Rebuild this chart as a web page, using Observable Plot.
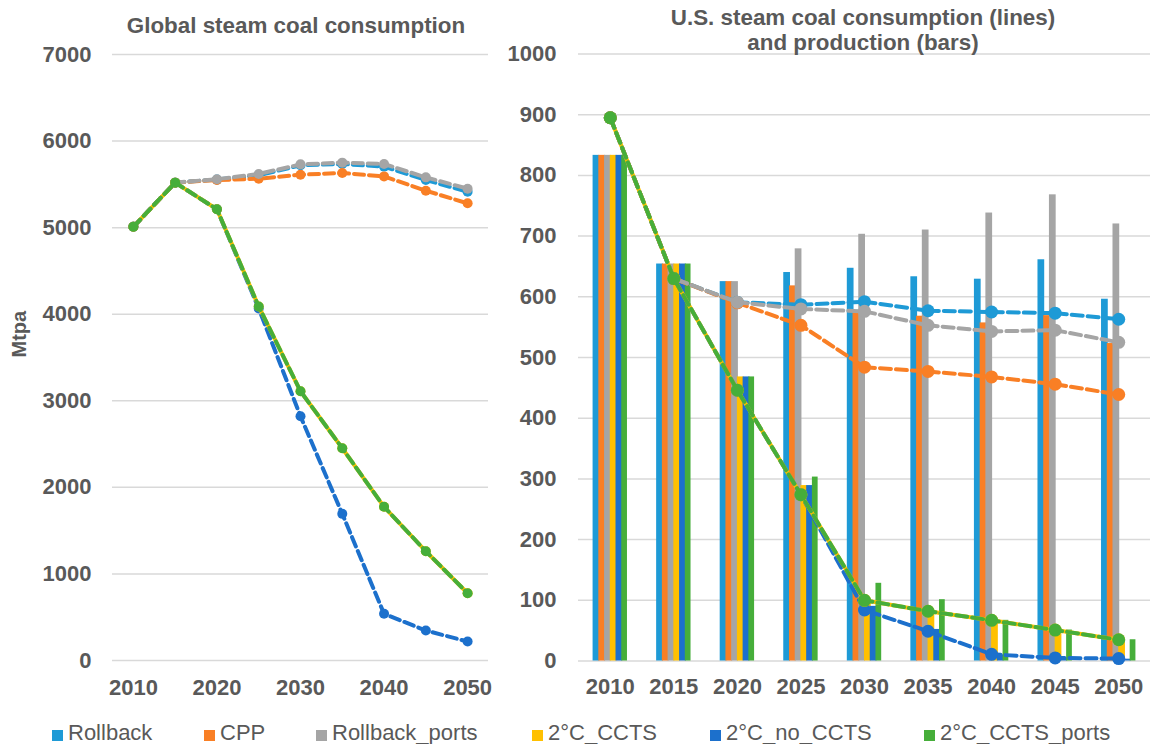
<!DOCTYPE html>
<html>
<head>
<meta charset="utf-8">
<script src="https://cdn.jsdelivr.net/npm/d3@7"></script>
<script src="https://cdn.jsdelivr.net/npm/@observablehq/plot@0.6"></script>
<style>
  html, body { margin: 0; padding: 0; background: #fff; }
  #wrap { position: relative; width: 1154px; height: 744px; overflow: hidden; font-family: "Liberation Sans", Arial, sans-serif; color: #595959; }
  .panel { position: absolute; top: 0; }
  .title { position: absolute; font-size: 22.4px; font-weight: bold; text-align: center; color: #595959; white-space: nowrap; }
  .item { position: absolute; top: 721px; display: flex; align-items: center; font-size: 22px; line-height: 24px; color: #595959; white-space: nowrap; }
  .sw { width: 11px; height: 11px; margin-right: 5px; margin-top: 5px; }
</style>
</head>
<body>
<div id="wrap">
  <div id="left" class="panel" style="left:0"></div>
  <div id="right" class="panel" style="left:500px"></div>
  <div class="title" style="left:96px; width:400px; top:13px; line-height:26px;">Global steam coal consumption</div>
  <div class="title" style="left:563px; width:600px; top:5px; line-height:25px;">U.S. steam coal consumption (lines)<br>and production (bars)</div>
</div>
<script>
// ---------- data ----------
const years = [2010, 2015, 2020, 2025, 2030, 2035, 2040, 2045, 2050];
const seriesNames = ["Rollback", "CPP", "Rollback_ports", "2°C_CCTS", "2°C_no_CCTS", "2°C_CCTS_ports"];
const seriesColors = ["#1E9AD6", "#F97F25", "#A5A5A5", "#FFC000", "#1C70CC", "#46AE3A"];

// Global steam coal consumption (Mtpa)
const globalRollback      = [5010, 5520, 5555, 5605, 5720, 5735, 5705, 5550, 5415];
const globalCPP           = [5010, 5520, 5550, 5565, 5612, 5632, 5592, 5427, 5281];
const globalRollbackPorts = [5010, 5520, 5560, 5620, 5731, 5751, 5735, 5581, 5450];
const globalCCTS          = [5010, 5520, 5212, 4090, 3110, 2452, 1775, 1262, 777];
const globalNoCCTS        = [5010, 5520, 5212, 4065, 2821, 1694, 539, 346, 219];
const globalCCTSPorts     = [5010, 5520, 5212, 4090, 3110, 2452, 1775, 1262, 777];

// U.S. steam coal consumption (lines)
const usRollback      = [895, 630, 591, 587, 592, 577, 575, 573, 563];
const usCPP           = [895, 630, 590, 553, 484, 477, 468, 456, 439];
const usRollbackPorts = [895, 630, 591, 580, 576, 553, 543, 545, 525];
const usCCTS          = [895, 630, 446, 274, 100, 82, 67, 51, 35];
const usNoCCTS        = [895, 630, 446, 274, 84, 49, 11, 5, 4];
const usCCTSPorts     = [895, 630, 446, 274, 100, 82, 67, 51, 35];

// U.S. steam coal production (bars)
const prodRollback      = [833, 654, 625, 640, 647, 633, 629, 661, 596];
const prodCPP           = [833, 654, 625, 618, 574, 568, 557, 569, 523];
const prodRollbackPorts = [833, 654, 625, 679, 703, 710, 738, 768, 720];
const prodCCTS          = [833, 654, 468, 289, 95, 78, 66, 50, 34];
const prodNoCCTS        = [833, 654, 468, 289, 90, 52, 10, 5, 3];
const prodCCTSPorts     = [833, 654, 468, 303, 128, 101, 67, 51, 35];

// tick labels
const globalTicks = [0, 1000, 2000, 3000, 4000, 5000, 6000, 7000];
const usTicks = [0, 100, 200, 300, 400, 500, 600, 700, 800, 900, 1000];
const globalYearTicks = [2010, 2020, 2030, 2040, 2050];
const usYearTicks = years;

// ---------- build tables ----------
const globalSeries = [globalRollback, globalCPP, globalRollbackPorts, globalCCTS, globalNoCCTS, globalCCTSPorts];
const usSeries = [usRollback, usCPP, usRollbackPorts, usCCTS, usNoCCTS, usCCTSPorts];
const prodSeries = [prodRollback, prodCPP, prodRollbackPorts, prodCCTS, prodNoCCTS, prodCCTSPorts];

function table(seriesList) {
  return years.map((year, i) => {
    const row = {year};
    seriesNames.forEach((n, k) => row[n] = seriesList[k][i]);
    return row;
  });
}
const globalRows = table(globalSeries);
const usRows = table(usSeries);
const prodRows = table(prodSeries);

const solidIdx = 3; // 2°C_CCTS drawn solid under the green dashed line
const lineOrder = [0, 1, 2, 4, 3, 5];

function lineMarks(rows, r, sw, dash) {
  const marks = [];
  for (const k of lineOrder) {
    const name = seriesNames[k];
    marks.push(Plot.line(rows, {
      x: "year", y: name, stroke: seriesColors[k], strokeWidth: sw,
      strokeDasharray: k === solidIdx ? null : dash
    }));
    marks.push(Plot.dot(rows, {x: "year", y: name, r, fill: seriesColors[k], stroke: "none"}));
  }
  return marks;
}

const baseStyle = {
  fontFamily: "'Liberation Sans', Arial, sans-serif",
  fontSize: "22px",
  fontWeight: "bold",
  color: "#595959",
  background: "transparent",
  overflow: "visible"
};

// ---------- left chart ----------
const left = Plot.plot({
  width: 500, height: 710,
  marginLeft: 112, marginRight: 12, marginTop: 54, marginBottom: 50,
  style: baseStyle,
  x: {type: "band", domain: years, padding: 0, round: false},
  y: {domain: [0, 7000]},
  marks: [
    Plot.gridY(globalTicks, {stroke: "#d9d9d9", strokeOpacity: 1, strokeWidth: 1.5}),
    Plot.axisY(globalTicks, {tickSize: 0, tickPadding: 21, label: null, tickFormat: d => String(d)}),
    Plot.axisX(globalYearTicks, {tickSize: 0, tickPadding: 19, label: null, tickFormat: d => String(d)}),
    Plot.text(["Mtpa"], {frameAnchor: "left", dx: -93, rotate: -90, fontSize: 20, fontWeight: "bold", fill: "#595959"}),
    ...lineMarks(globalRows, 5, 4, "10,5")
  ]
});
document.getElementById("left").appendChild(left);

// ---------- right chart ----------
const rW = 654, rML = 78, rMR = 4;
const band = (rW - rML - rMR) / years.length;
const groupW = band * 0.541;
const barW = groupW / seriesNames.length;
const offset = (band - groupW) / 2;
const overlap = 1;

const barMarks = seriesNames.map((name, k) => Plot.barY(prodRows, {
  x: "year", y: name, fill: seriesColors[k],
  insetLeft: offset + k * barW,
  insetRight: band - offset - (k + 1) * barW - (k < seriesNames.length - 1 ? overlap : 0)
}));

const right = Plot.plot({
  width: rW, height: 710,
  marginLeft: rML, marginRight: rMR, marginTop: 53.5, marginBottom: 49.5,
  style: baseStyle,
  x: {type: "band", domain: years, padding: 0, round: false},
  y: {domain: [0, 1000]},
  marks: [
    Plot.gridY(usTicks, {stroke: "#d9d9d9", strokeOpacity: 1, strokeWidth: 1.5}),
    Plot.axisY(usTicks, {tickSize: 0, tickPadding: 22, label: null, tickFormat: d => String(d)}),
    Plot.axisX(usYearTicks, {tickSize: 0, tickPadding: 17.5, label: null, tickFormat: d => String(d)}),
    ...barMarks,
    ...lineMarks(usRows, 6.5, 4, "11,5")
  ]
});
document.getElementById("right").appendChild(right);

// ---------- legend ----------
const legendLeft = [52, 204, 316, 532, 710, 924];
const wrap = document.getElementById("wrap");
seriesNames.forEach((n, k) => {
  const item = document.createElement("div");
  item.className = "item";
  item.style.left = legendLeft[k] + "px";
  const sw = document.createElement("span");
  sw.className = "sw";
  sw.style.background = seriesColors[k];
  const t = document.createElement("span");
  t.textContent = n;
  item.appendChild(sw);
  item.appendChild(t);
  wrap.appendChild(item);
});
</script>
</body>
</html>
